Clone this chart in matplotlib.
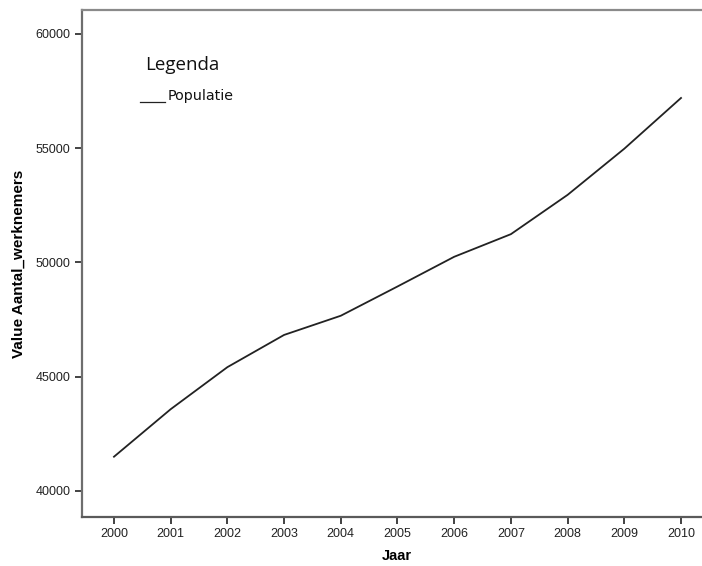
import matplotlib
matplotlib.use('Agg')
import matplotlib.pyplot as plt

jaren = [2000, 2001, 2002, 2003, 2004, 2005, 2006, 2007, 2008, 2009, 2010]
populatie = [41500, 43580, 45420, 46830, 47670, 48950, 50250, 51240, 52960, 54980, 57200]
y_ticks = [40000, 45000, 50000, 55000, 60000]

plt.rcParams['font.family'] = ['Liberation Sans', 'DejaVu Sans']

fig = plt.figure(figsize=(7.02, 5.66), dpi=100)
ax = fig.add_axes([82/702, 49/566, 1 - 82/702 + 0.01, 507/566])

ax.plot(jaren, populatie, color='#222222', linewidth=1.3)

ax.set_xlim(1999.436, 2010.494)
ax.set_ylim(38862, 61050)
ax.set_xticks(jaren)
ax.set_yticks(y_ticks)
ax.tick_params(axis='both', labelsize=9, colors='#222222', width=1.2, length=5)
ax.tick_params(axis='x', pad=3)

ax.spines['right'].set_visible(False)
ax.spines['top'].set_color('#8a8a8a')
ax.spines['bottom'].set_color('#5a5a5a')
ax.spines['left'].set_color('#6e6e6e')
for side in ['top', 'bottom', 'left']:
    ax.spines[side].set_linewidth(1.6)

ax.set_xlabel('Jaar', fontsize=10.5, fontweight='bold')
ax.xaxis.set_label_coords((397 - 82) / 627, -0.064)
ax.set_ylabel('Value Aantal_werknemers', fontsize=11, fontweight='bold')
ax.yaxis.set_label_coords(-0.09, 0.5)

ax.text(0.1, 0.882, 'Legenda', transform=ax.transAxes, fontsize=13.5,
        family=['Open Sans', 'DejaVu Sans'], color='#111111')
ax.plot([0.093, 0.132], [0.818, 0.818], transform=ax.transAxes,
        color='#222222', linewidth=0.9)
ax.text(0.137, 0.823, 'Populatie', transform=ax.transAxes, fontsize=10.3,
        family=['DejaVu Sans'], color='#111111')

plt.savefig('out.png', dpi=100)
